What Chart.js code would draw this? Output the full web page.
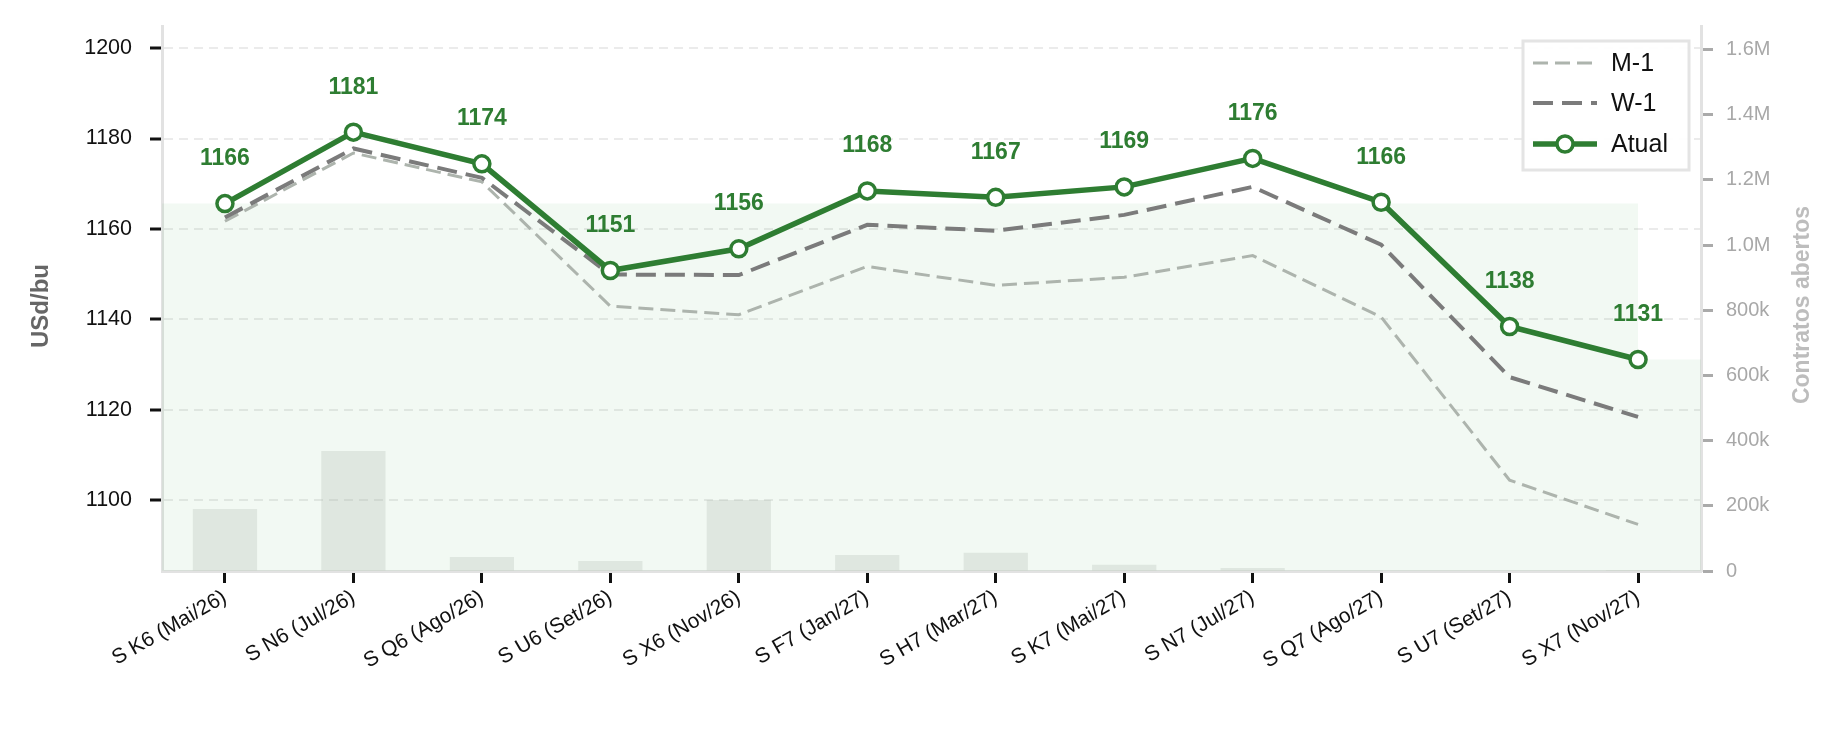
<!DOCTYPE html>
<html><head><meta charset="utf-8">
<script src="https://cdn.jsdelivr.net/npm/chart.js@4.4.1/dist/chart.umd.min.js"></script>
<style>html,body{margin:0;padding:0;background:#fff;overflow:hidden}#wrap{width:1846px;height:734px}</style>
</head><body><div id="wrap"><canvas id="c" width="1846" height="734"></canvas></div>
<script>
// ---- data ----
const categories = ['S K6 (Mai/26)','S N6 (Jul/26)','S Q6 (Ago/26)','S U6 (Set/26)','S X6 (Nov/26)','S F7 (Jan/27)','S H7 (Mar/27)','S K7 (Mai/27)','S N7 (Jul/27)','S Q7 (Ago/27)','S U7 (Set/27)','S X7 (Nov/27)'];
const atual = [1165.6, 1181.4, 1174.4, 1150.8, 1155.6, 1168.4, 1167.0, 1169.3, 1175.6, 1165.9, 1138.4, 1131.1];
const w1 = [1162.5, 1177.8, 1171.3, 1149.9, 1149.8, 1160.9, 1159.6, 1163.1, 1169.3, 1156.5, 1127.2, 1118.4];
const m1 = [1161.7, 1176.8, 1170.4, 1142.9, 1141.0, 1151.7, 1147.5, 1149.3, 1154.1, 1140.5, 1104.4, 1094.6];
const openInterest = [190000, 368000, 43000, 31000, 218000, 49000, 56000, 19000, 9000, 0, 0, 3000];
const yTicks = [1100, 1120, 1140, 1160, 1180, 1200];
const y2Ticks = [0, 200000, 400000, 600000, 800000, 1000000, 1200000, 1400000, 1600000];
const y2TickLabels = ['0', '200k', '400k', '600k', '800k', '1.0M', '1.2M', '1.4M', '1.6M'];
const seriesNames = ['M-1', 'W-1', 'Atual'];

// ---- style ----
const GREEN = '#2e7d32';
const W1C = '#7b7b7b';
const M1C = '#adb4ad';
const FONT = "'Liberation Sans', Arial, sans-serif";
const last = atual.length - 1;
const X_MIN = -0.49, X_MAX = last + 0.49;

const pts = arr => arr.map((v, i) => ({x: i, y: v}));
const fillPts = [
  {x: X_MIN, y: atual[0]}, {x: last, y: atual[0]},
  {x: last, y: atual[last]}, {x: X_MAX, y: atual[last]}
];

const overlay = {
  id: 'overlay',
  afterDatasetsDraw(chart) {
    const ctx = chart.ctx;
    const meta = chart.getDatasetMeta(4);
    ctx.save();
    ctx.font = "bold 23px " + FONT;
    ctx.fillStyle = GREEN;
    ctx.textAlign = 'center';
    ctx.textBaseline = 'middle';
    meta.data.forEach((p, i) => {
      ctx.fillText(String(Math.round(atual[i])), p.x, p.y - 45);
    });
    ctx.restore();
  },
  afterDraw(chart) {
    const ctx = chart.ctx;
    // axis titles
    ctx.save();
    ctx.textAlign = 'center';
    ctx.textBaseline = 'middle';
    ctx.font = "bold 24px " + FONT;
    ctx.fillStyle = '#666666';
    ctx.translate(41, 306);
    ctx.rotate(-Math.PI / 2);
    ctx.fillText('USd/bu', 0, 0);
    ctx.restore();
    ctx.save();
    ctx.textAlign = 'center';
    ctx.textBaseline = 'middle';
    ctx.font = "bold 23px " + FONT;
    ctx.fillStyle = '#bdbdbd';
    ctx.translate(1803, 305);
    ctx.rotate(-Math.PI / 2);
    ctx.fillText('Contratos abertos', 0, 0);
    ctx.restore();
    // legend
    const bx = 1523, by = 41, bw = 166, bh = 129;
    ctx.save();
    ctx.fillStyle = 'rgba(255,255,255,0.92)';
    ctx.fillRect(bx, by, bw, bh);
    ctx.strokeStyle = '#e4e4e4';
    ctx.lineWidth = 3;
    ctx.strokeRect(bx, by, bw, bh);
    const rows = [
      {name: seriesNames[0], color: M1C, w: 3, dash: [15, 7], y: 63},
      {name: seriesNames[1], color: W1C, w: 4, dash: [20, 9], y: 103},
      {name: seriesNames[2], color: GREEN, w: 5.5, dash: [], y: 144, marker: true}
    ];
    rows.forEach(r => {
      ctx.beginPath();
      ctx.setLineDash(r.dash);
      ctx.strokeStyle = r.color;
      ctx.lineWidth = r.w;
      ctx.moveTo(1533, r.y); ctx.lineTo(1597, r.y);
      ctx.stroke();
      ctx.setLineDash([]);
      if (r.marker) {
        ctx.beginPath();
        ctx.arc(1565, r.y, 8, 0, Math.PI * 2);
        ctx.fillStyle = '#fff'; ctx.fill();
        ctx.lineWidth = 3.5; ctx.strokeStyle = GREEN; ctx.stroke();
      }
      ctx.fillStyle = '#111';
      ctx.font = "25px " + FONT;
      ctx.textAlign = 'left';
      ctx.textBaseline = 'middle';
      ctx.fillText(r.name, 1611, r.y + 1);
    });
    ctx.restore();
  }
};

new Chart(document.getElementById('c'), {
  data: {
    datasets: [
      {type: 'line', label: 'fill', data: fillPts, yAxisID: 'y', borderWidth: 0, pointRadius: 0,
       fill: 'start', backgroundColor: 'rgba(76,175,80,0.07)', order: 5},
      {type: 'bar', label: 'Contratos abertos', data: pts(openInterest), yAxisID: 'y2',
       backgroundColor: 'rgba(180,190,180,0.30)', borderWidth: 0, barPercentage: 0.5, categoryPercentage: 1, order: 4},
      {type: 'line', label: seriesNames[0], data: pts(m1), yAxisID: 'y', borderColor: M1C, borderWidth: 3,
       borderDash: [15, 7], pointRadius: 0, fill: false, tension: 0, order: 3},
      {type: 'line', label: seriesNames[1], data: pts(w1), yAxisID: 'y', borderColor: W1C, borderWidth: 4,
       borderDash: [20, 9], pointRadius: 0, fill: false, tension: 0, order: 2},
      {type: 'line', label: seriesNames[2], data: pts(atual), yAxisID: 'y', borderColor: GREEN, borderWidth: 5.5,
       pointRadius: 8, pointBorderWidth: 3.5, pointBackgroundColor: '#fff', pointBorderColor: GREEN,
       fill: false, tension: 0, order: 1}
    ]
  },
  options: {
    responsive: false, animation: false, devicePixelRatio: 1,
    layout: {padding: {top: 26, left: 0, right: 0, bottom: 0}},
    plugins: {legend: {display: false}, tooltip: {enabled: false}},
    scales: {
      x: {
        type: 'linear', min: X_MIN, max: X_MAX, offset: false,
        afterBuildTicks: s => { s.ticks = categories.map((c, i) => ({value: i})); },
        afterFit: s => { s.height = 734 - 571; s.paddingLeft = 0; s.paddingRight = 0; s.paddingTop = 0; s.paddingBottom = 0; },
        ticks: {autoSkip: false, minRotation: 30, maxRotation: 30, padding: 2, color: '#111',
                font: {family: FONT, size: 21}, callback: v => categories[v]},
        grid: {display: true, offset: false, drawOnChartArea: false, drawTicks: true, tickLength: 12, tickColor: '#111', tickWidth: 3},
        border: {display: true, color: '#e2e2e2', width: 3}
      },
      y: {
        position: 'left', min: 1084.3, max: 1204.9,
        afterBuildTicks: s => { s.ticks = yTicks.map(v => ({value: v})); },
        afterFit: s => { s.width = 162; s.paddingTop = 0; s.paddingBottom = 0; },
        ticks: {color: '#111', padding: 18, font: {family: FONT, size: 21.5}, callback: v => String(v)},
        grid: {drawOnChartArea: true, offset: false, color: '#ebebeb', lineWidth: 2, borderDash: [9, 6], tickBorderDash: [],
               drawTicks: true, tickLength: 12, tickColor: '#111', tickWidth: 3},
        border: {display: true, color: '#e2e2e2', width: 3, dash: [9, 6]},
        title: {display: false}
      },
      y2: {
        position: 'right', min: 0, max: 1672000,
        afterBuildTicks: s => { s.ticks = y2Ticks.map(v => ({value: v})); },
        afterFit: s => { s.width = 1846 - 1701; s.paddingTop = 0; s.paddingBottom = 0; },
        ticks: {color: '#a8a8a8', padding: 13, font: {family: FONT, size: 20},
                callback: v => y2TickLabels[y2Ticks.indexOf(v)]},
        grid: {drawOnChartArea: false, offset: false, drawTicks: true, tickLength: 12, tickColor: '#aaaaaa', tickWidth: 3},
        border: {display: true, color: '#e2e2e2', width: 3}
      }
    }
  },
  plugins: [overlay]
});
</script></body></html>
